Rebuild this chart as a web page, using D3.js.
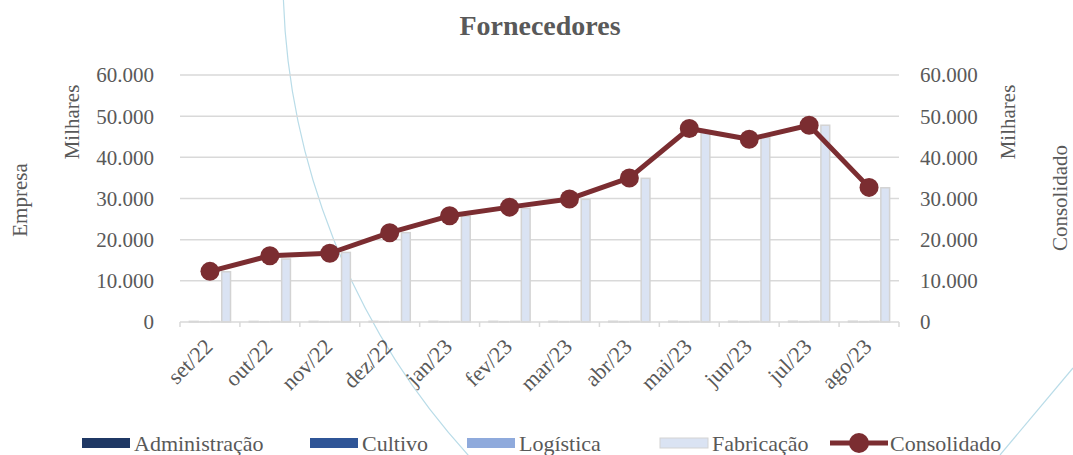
<!DOCTYPE html>
<html lang="pt">
<head>
<meta charset="utf-8">
<title>Fornecedores</title>
<script src="https://d3js.org/d3.v7.min.js"></script>
<style>
  body { margin: 0; background: #fff; }
  text { font-family: "Liberation Serif", "Times New Roman", serif; fill: #595959; }
</style>
</head>
<body>
<script>
// data (valores em milhares)
const months = ["set/22", "out/22", "nov/22", "dez/22", "jan/23", "fev/23", "mar/23", "abr/23", "mai/23", "jun/23", "jul/23", "ago/23"];
const seriesNames = ["Administração", "Cultivo", "Logística", "Fabricação"];
const administracao = [150, 150, 160, 160, 170, 170, 170, 180, 180, 180, 190, 190];
const cultivo = [80, 80, 90, 90, 90, 90, 100, 100, 100, 100, 100, 100];
const logistica = [120, 130, 130, 140, 140, 150, 150, 160, 160, 160, 170, 170];
const fabricacao = [12200, 15300, 16900, 21700, 25700, 27600, 29800, 34900, 46300, 44800, 47800, 32600];
const consolidado = [12300, 16100, 16700, 21700, 25800, 27900, 29900, 35000, 47000, 44400, 47800, 32700];
const yTicks = [0, 10000, 20000, 30000, 40000, 50000, 60000];

const colors = ["#1f3864", "#2f5597", "#8faadc", "#dae3f3"];
const lineColor = "#7b2d31";

const width = 1073;
const height = 455;
const margin = { top: 75, left: 180, right: 174, bottom: 133 };

const svg = d3.select("body")
    .append("svg")
    .attr("width", width)
    .attr("height", height);

// decorative background curves
svg.append("circle")
    .attr("cx", 998).attr("cy", -25).attr("r", 715)
    .attr("fill", "none").attr("stroke", "#b9dce8").attr("stroke-width", 1.2);
svg.append("line")
    .attr("x1", 1073).attr("y1", 368).attr("x2", 1000).attr("y2", 455)
    .attr("stroke", "#b9dce8").attr("stroke-width", 1.2);

const x0 = d3.scaleBand()
    .domain(months)
    .range([margin.left, width - margin.right]);

const x1 = d3.scaleBand()
    .domain(seriesNames)
    .range([x0.bandwidth() * 0.14, x0.bandwidth() * 0.86]);

const y = d3.scaleLinear()
    .domain([0, 60000])
    .range([height - margin.bottom, margin.top]);

const fmt = d => d3.format(",")(d).replace(/,/g, ".");

// gridlines
svg.append("g")
    .selectAll("line")
    .data(yTicks.slice(1))
    .join("line")
    .attr("x1", margin.left)
    .attr("x2", width - margin.right)
    .attr("y1", d => y(d))
    .attr("y2", d => y(d))
    .attr("stroke", "#d9d9d9")
    .attr("stroke-width", 1.5);

// left axis labels
svg.append("g")
    .selectAll("text")
    .data(yTicks)
    .join("text")
    .attr("x", 154)
    .attr("y", d => y(d))
    .attr("dy", "0.35em")
    .attr("text-anchor", "end")
    .attr("font-size", 21)
    .text(fmt);

// right axis labels
svg.append("g")
    .selectAll("text")
    .data(yTicks)
    .join("text")
    .attr("x", 920)
    .attr("y", d => y(d))
    .attr("dy", "0.35em")
    .attr("text-anchor", "start")
    .attr("font-size", 21)
    .text(fmt);

// bars
const barData = [administracao, cultivo, logistica, fabricacao];
const groups = svg.append("g")
    .selectAll("g")
    .data(months)
    .join("g")
    .attr("transform", d => "translate(" + x0(d) + ",0)");

groups.selectAll("rect")
    .data((m, i) => seriesNames.map((s, j) => ({ s: s, v: barData[j][i] })))
    .join("rect")
    .attr("x", d => x1(d.s) + 1)
    .attr("width", x1.bandwidth() - 2)
    .attr("y", d => y(d.v))
    .attr("height", d => y(0) - y(d.v))
    .attr("fill", (d, j) => colors[j])
    .attr("stroke", "#d3d3d3")
    .attr("stroke-width", 1.5);

// x axis line and ticks
const xAxis = svg.append("g");
xAxis.append("line")
    .attr("x1", margin.left).attr("x2", width - margin.right)
    .attr("y1", y(0)).attr("y2", y(0))
    .attr("stroke", "#d9d9d9").attr("stroke-width", 1.5);
xAxis.selectAll(".tick")
    .data(months.concat(["end"]))
    .join("line")
    .attr("x1", (d, i) => margin.left + i * x0.bandwidth())
    .attr("x2", (d, i) => margin.left + i * x0.bandwidth())
    .attr("y1", y(0))
    .attr("y2", y(0) + 5)
    .attr("stroke", "#d9d9d9").attr("stroke-width", 1.5);

xAxis.selectAll("text")
    .data(months)
    .join("text")
    .attr("transform", d => "translate(" + (x0(d) + x0.bandwidth() / 2 + 4) + "," + (y(0) + 26) + ") rotate(-45)")
    .attr("text-anchor", "end")
    .attr("font-size", 22)
    .text(d => d);

// line
const line = d3.line()
    .x((d, i) => x0(months[i]) + x0.bandwidth() / 2)
    .y(d => y(d));

svg.append("path")
    .datum(consolidado)
    .attr("d", line)
    .attr("fill", "none")
    .attr("stroke", lineColor)
    .attr("stroke-width", 5)
    .attr("stroke-linejoin", "round");

svg.append("g")
    .selectAll("circle")
    .data(consolidado)
    .join("circle")
    .attr("cx", (d, i) => x0(months[i]) + x0.bandwidth() / 2)
    .attr("cy", d => y(d))
    .attr("r", 9.5)
    .attr("fill", lineColor);

// title
svg.append("text")
    .attr("x", 540)
    .attr("y", 35)
    .attr("text-anchor", "middle")
    .attr("font-size", 28)
    .attr("font-weight", "bold")
    .text("Fornecedores");

// axis titles
function vText(txt, cx, cy) {
    svg.append("text")
        .attr("transform", "translate(" + cx + "," + cy + ") rotate(-90)")
        .attr("text-anchor", "middle")
        .attr("dy", "0.35em")
        .attr("font-size", 21)
        .text(txt);
}
vText("Milhares", 72, 122);
vText("Empresa", 20, 200);
vText("Milhares", 1008, 122);
vText("Consolidado", 1060, 198);

// legend
const legendX = [82, 310, 467, 660];
const legendY = 443;
seriesNames.forEach((s, i) => {
    svg.append("rect")
        .attr("x", legendX[i]).attr("y", legendY - 5)
        .attr("width", 48).attr("height", 10)
        .attr("fill", colors[i])
        .attr("stroke", i === 3 ? "#d3d3d3" : "none");
    svg.append("text")
        .attr("x", legendX[i] + 52).attr("y", legendY)
        .attr("dy", "0.35em")
        .attr("font-size", 22)
        .text(s);
});
svg.append("line")
    .attr("x1", 830).attr("x2", 888)
    .attr("y1", legendY).attr("y2", legendY)
    .attr("stroke", lineColor).attr("stroke-width", 5);
svg.append("circle")
    .attr("cx", 859).attr("cy", legendY).attr("r", 10)
    .attr("fill", lineColor);
svg.append("text")
    .attr("x", 890).attr("y", legendY)
    .attr("dy", "0.35em")
    .attr("font-size", 22)
    .text("Consolidado");
</script>
</body>
</html>
